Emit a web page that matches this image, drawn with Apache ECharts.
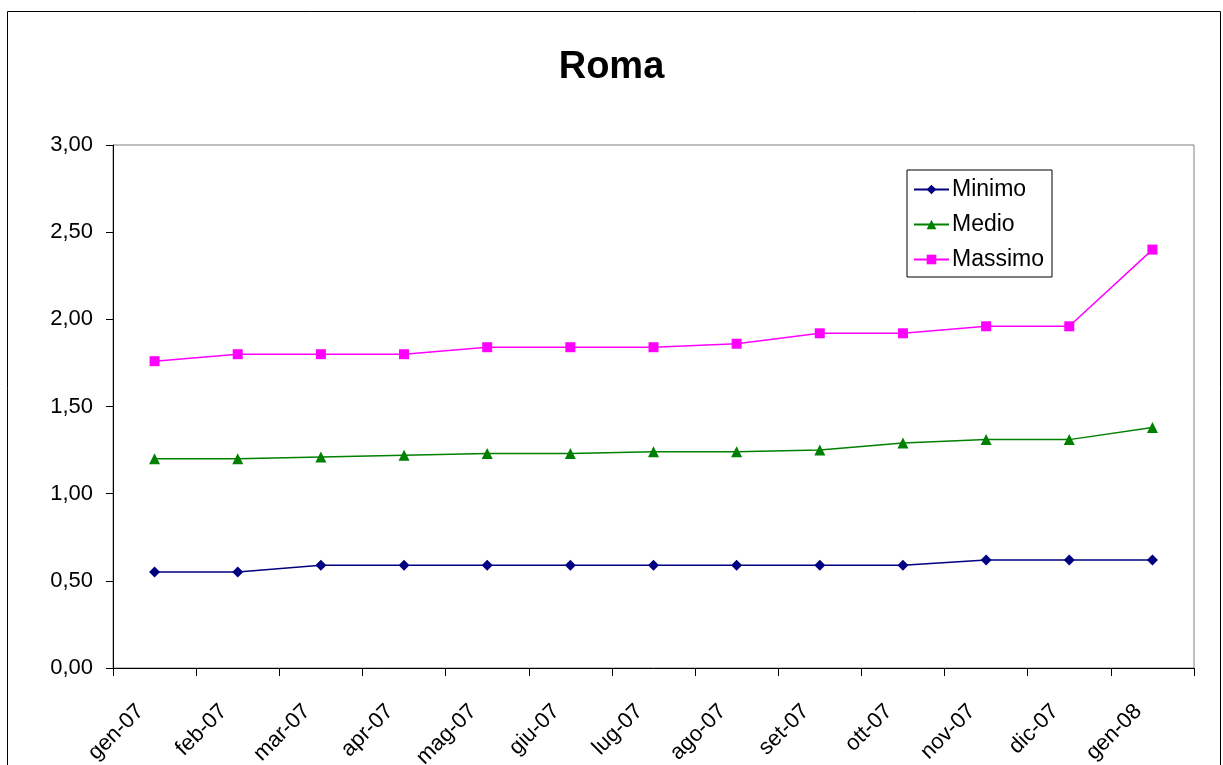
<!DOCTYPE html>
<html><head><meta charset="utf-8">
<script src="https://cdn.jsdelivr.net/npm/echarts@6/dist/echarts.min.js"></script>
<style>html,body{margin:0;padding:0;background:#fff}#c{width:1223px;height:765px}</style>
</head><body><div id="c"></div>
<script>
const categories = ['gen-07','feb-07','mar-07','apr-07','mag-07','giu-07','lug-07','ago-07','set-07','ott-07','nov-07','dic-07','gen-08'];
const minimo  = [0.55,0.55,0.59,0.59,0.59,0.59,0.59,0.59,0.59,0.59,0.62,0.62,0.62];
const medio   = [1.20,1.20,1.21,1.22,1.23,1.23,1.24,1.24,1.25,1.29,1.31,1.31,1.38];
const massimo = [1.76,1.80,1.80,1.80,1.84,1.84,1.84,1.86,1.92,1.92,1.96,1.96,2.40];
const title = 'Roma';

const FONT = 'Liberation Sans, Arial, sans-serif';
const chart = echarts.init(document.getElementById('c'));
chart.setOption({
  backgroundColor: '#fff',
  animation: false,
  textStyle: { fontFamily: FONT },
  title: { text: title, left: 'center', top: 44, textStyle: { fontFamily: FONT, fontSize: 38, fontWeight: 'bold', color: '#000' } },
  graphic: [{ type: 'rect', shape: { x: 7.5, y: 11.5, width: 1213, height: 800 }, style: { fill: 'none', stroke: '#000', lineWidth: 1 }, silent: true, z: -1 }],
  legend: {
    orient: 'vertical', left: 907, top: 170, itemWidth: 35, itemHeight: 12, itemGap: 12,
    padding: [8, 8, 6, 6], borderColor: '#000', borderWidth: 1, backgroundColor: '#fff',
    textStyle: { fontFamily: FONT, fontSize: 23, color: '#000', padding: [0,0,0,-2] },
    data: ['Minimo','Medio','Massimo']
  },
  grid: { left: 113, right: 29, top: 145, bottom: 97, show: true, borderColor: '#808080', borderWidth: 1, containLabel: false, outerBoundsMode: 'none' },
  xAxis: {
    type: 'category', data: categories, boundaryGap: true,
    axisLine: { lineStyle: { color: '#000', width: 1 } },
    axisTick: { show: true, length: 8, inside: false, lineStyle: { color: '#000' } },
    axisLabel: { rotate: 45, fontSize: 22, color: '#000', fontFamily: FONT, margin: 26, padding: [0, 20, 0, 0], interval: 0 },
    splitLine: { show: false }
  },
  yAxis: {
    type: 'value', min: 0, max: 3, interval: 0.5,
    axisLine: { show: true, lineStyle: { color: '#000', width: 1 } },
    axisTick: { show: true, length: 7, lineStyle: { color: '#000' } },
    axisLabel: { fontSize: 22, color: '#000', fontFamily: FONT, margin: 20, formatter: v => v.toFixed(2).replace('.', ',') },
    splitLine: { show: false }
  },
  series: [
    { name: 'Minimo', type: 'line', data: minimo, symbol: 'diamond', symbolSize: 11, showAllSymbol: true,
      itemStyle: { color: '#000080' }, lineStyle: { color: '#000080', width: 1.5 } },
    { name: 'Medio', type: 'line', data: medio, symbol: 'triangle', symbolSize: 11, showAllSymbol: true,
      itemStyle: { color: '#008000' }, lineStyle: { color: '#008000', width: 1.5 } },
    { name: 'Massimo', type: 'line', data: massimo, symbol: 'rect', symbolSize: 10, showAllSymbol: true,
      itemStyle: { color: '#FF00FF' }, lineStyle: { color: '#FF00FF', width: 1.5 } }
  ]
});
</script></body></html>
